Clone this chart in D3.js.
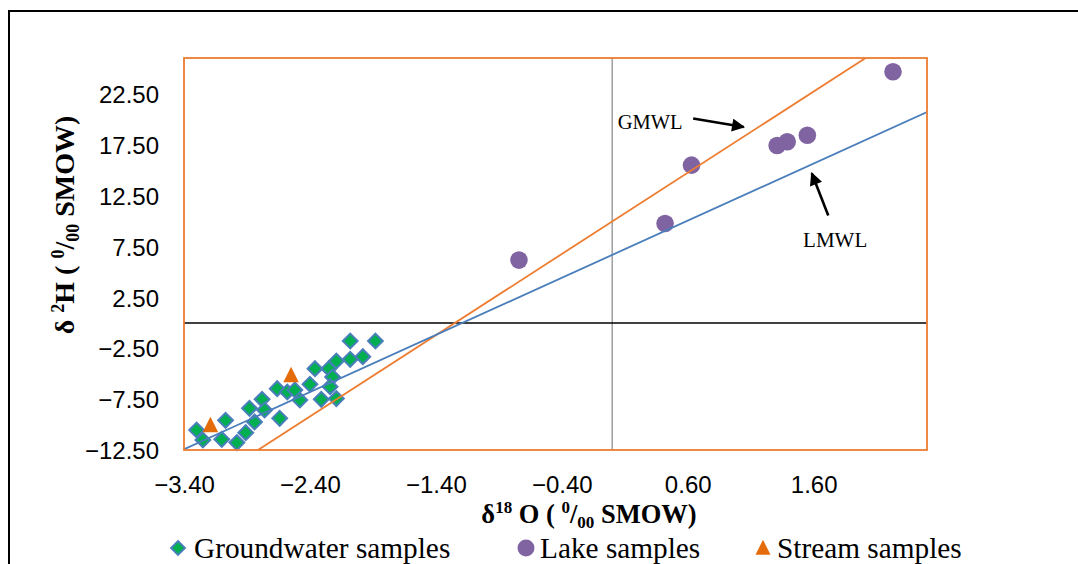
<!DOCTYPE html>
<html><head><meta charset="utf-8">
<script src="https://cdn.jsdelivr.net/npm/d3@7"></script>
<style>body{margin:0;background:#fff;overflow:hidden}</style>
</head><body><svg id="c" width="1078" height="564"></svg>
<script>
// ---- data ----
const groundwaterX = [-3.30,-3.25,-3.07,-3.10,-2.98,-2.91,-2.88,-2.84,-2.78,-2.76,-2.64,-2.66,-2.58,-2.52,-2.48,-2.40,-2.36,-2.31,-2.25,-2.22,-2.24,-2.19,-2.19,-2.08,-1.98,-2.08,-1.88];
const groundwaterY = [-10.53,-11.52,-9.58,-11.45,-11.77,-10.79,-8.40,-9.74,-7.51,-8.56,-9.38,-6.46,-6.79,-6.59,-7.58,-6.03,-4.49,-7.51,-4.49,-5.31,-6.26,-3.74,-7.44,-3.57,-3.31,-1.77,-1.77];
const lakeX = [-0.74,0.42,0.63,1.31,1.39,1.55,2.23];
const lakeY = [6.20,9.81,15.55,17.49,17.85,18.50,24.74];
const streamX = [-3.19,-2.55];
const streamY = [-10.07,-5.15];
const xTicks = [-3.4,-2.4,-1.4,-0.4,0.6,1.6];
const yTicks = [-12.5,-7.5,-2.5,2.5,7.5,12.5,17.5,22.5];
const xDomain = [-3.4, 2.5];
const yDomain = [-12.5, 26.1];
const gmwl = [8, 10];      // slope, intercept
const lmwl = [5.63, 6.71];
const legendNames = ["Groundwater samples","Lake samples","Stream samples"];

// ---- layout ----
const svg = d3.select("#c");
const L=184, R=927, T=58, B=450;
const x = d3.scaleLinear().domain(xDomain).range([L,R]);
const y = d3.scaleLinear().domain(yDomain).range([B,T]);
const cOrange="#ED7D31", cBlue="#4A7EBB", cGreen="#00B050", cPurple="#8064A2", cTri="#E46C0A";

// outer frame
svg.append("line").attr("x1",8).attr("x2",1078).attr("y1",11).attr("y2",11).attr("stroke","#000").attr("stroke-width",2);
svg.append("line").attr("x1",9).attr("x2",9).attr("y1",10).attr("y2",564).attr("stroke","#000").attr("stroke-width",2);

svg.append("clipPath").attr("id","pc").append("rect").attr("x",L).attr("y",T).attr("width",R-L).attr("height",B-T);

// axis lines at zero
svg.append("line").attr("x1",x(0)).attr("x2",x(0)).attr("y1",T).attr("y2",B).attr("stroke","#868686").attr("stroke-width",1.2);
svg.append("line").attr("x1",L).attr("x2",R).attr("y1",y(0)).attr("y2",y(0)).attr("stroke","#000").attr("stroke-width",1.5);

// ticks
const yAxis = d3.axisLeft(y).tickValues(yTicks).tickSize(0).tickPadding(25).tickFormat(d3.format(".2f"));
const gy = svg.append("g").attr("transform",`translate(${L},0)`).call(yAxis);
const xAxis = d3.axisBottom(x).tickValues(xTicks).tickSize(0).tickPadding(26).tickFormat(d3.format(".2f"));
const gx = svg.append("g").attr("transform",`translate(0,${B})`).call(xAxis);
[gx,gy].forEach(g=>{g.select(".domain").remove();g.selectAll("text").attr("font-family","'Liberation Sans',Arial,sans-serif").attr("font-size",24).attr("fill","#000");});
gy.selectAll("text").attr("dy","0.35em");

// markers
const plot = svg.append("g");
const diamond = r=>`M0,${-r}L${r},0L0,${r}L${-r},0Z`;
const tri = s=>`M0,${-s*0.55}L${s*0.5},${s*0.45}L${-s*0.5},${s*0.45}Z`;
plot.selectAll(".gw").data(d3.range(groundwaterX.length)).join("path")
  .attr("d",diamond(7.4)).attr("transform",i=>`translate(${x(groundwaterX[i])},${y(groundwaterY[i])})`)
  .attr("fill",cGreen).attr("stroke",cBlue).attr("stroke-width",2);
plot.selectAll(".lk").data(d3.range(lakeX.length)).join("circle")
  .attr("cx",i=>x(lakeX[i])).attr("cy",i=>y(lakeY[i])).attr("r",8.8).attr("fill",cPurple);
plot.selectAll(".st").data(d3.range(streamX.length)).join("path")
  .attr("d",tri(15.5)).attr("transform",i=>`translate(${x(streamX[i])},${y(streamY[i])})`).attr("fill",cTri);

// lines
const lg = svg.append("g").attr("clip-path","url(#pc)");
[[gmwl,cOrange],[lmwl,cBlue]].forEach(([p,c])=>{
  lg.append("line").attr("x1",x(xDomain[0])).attr("y1",y(p[0]*xDomain[0]+p[1]))
    .attr("x2",x(xDomain[1])).attr("y2",y(p[0]*xDomain[1]+p[1])).attr("stroke",c).attr("stroke-width",1.8);
});

// plot border
svg.append("rect").attr("x",L).attr("y",T).attr("width",R-L).attr("height",B-T).attr("fill","none").attr("stroke",cOrange).attr("stroke-width",1.8);

// annotations (data coords)
svg.append("defs").append("marker").attr("id","ah").attr("viewBox","0 0 10 10").attr("refX",9).attr("refY",5)
  .attr("markerWidth",5.5).attr("markerHeight",5).attr("orient","auto").attr("markerUnits","strokeWidth")
  .append("path").attr("d","M0,0L10,5L0,10Z").attr("fill","#000");
const ann = [
  {t:"GMWL", tx:0.302, ty:19.85, x1:0.643, y1:20.15, x2:1.045, y2:19.30, fs:20.5},
  {t:"LMWL", tx:1.771, ty:8.24, x1:1.716, y1:10.6, x2:1.585, y2:14.75, fs:21}
];
ann.forEach(a=>{
  svg.append("text").attr("x",x(a.tx)).attr("y",y(a.ty)).attr("dy","0.35em").attr("text-anchor","middle")
    .attr("font-family","'Liberation Serif','Times New Roman',serif").attr("font-size",a.fs).text(a.t);
  svg.append("line").attr("x1",x(a.x1)).attr("y1",y(a.y1)).attr("x2",x(a.x2)).attr("y2",y(a.y2))
    .attr("stroke","#000").attr("stroke-width",2.6).attr("marker-end","url(#ah)");
});

// axis titles
const serif="'Liberation Serif','Times New Roman',serif";
function title(sel, pieces){
  pieces.forEach(p=>{
    const ts = sel.append("tspan").text(p[0]);
    if(p[1]) ts.attr("font-size",p[1]);
    if(p[2]) ts.attr("dy",p[2]);
  });
}
const xt = svg.append("text").attr("x",589).attr("y",523).attr("text-anchor","middle")
  .attr("font-family",serif).attr("font-weight","bold").attr("font-size",26.5);
title(xt, [["δ"],["18",17,-10],[" O ( ",null,10],["0",17,-10],["/",null,10],["00",17,5],[" SMOW)",null,-5]]);

const yt = svg.append("text").attr("transform","translate(74,225) rotate(-90)").attr("text-anchor","middle")
  .attr("font-family",serif).attr("font-weight","bold").attr("font-size",28);
title(yt, [["δ "],["2",18,-10],["H ( ",null,10],["0",18,-10],["/",null,10],["00",18,5],[" SMOW)",null,-5]]);

// legend
const leg = [
  {mx:178, tx:194, kind:"d"},
  {mx:526, tx:540, kind:"c"},
  {mx:763, tx:777, kind:"t"}
];
leg.forEach((l,i)=>{
  const g = svg.append("g");
  if(l.kind==="d") g.append("path").attr("d",diamond(7)).attr("transform",`translate(${l.mx},548)`).attr("fill",cGreen).attr("stroke",cBlue).attr("stroke-width",1.8);
  if(l.kind==="c") g.append("circle").attr("cx",l.mx).attr("cy",548).attr("r",8.5).attr("fill",cPurple);
  if(l.kind==="t") g.append("path").attr("d",tri(15)).attr("transform",`translate(${l.mx},548)`).attr("fill",cTri);
  g.append("text").attr("x",l.tx).attr("y",558).attr("font-family",serif).attr("font-size",29.3).text(legendNames[i]);
});
</script></body></html>
